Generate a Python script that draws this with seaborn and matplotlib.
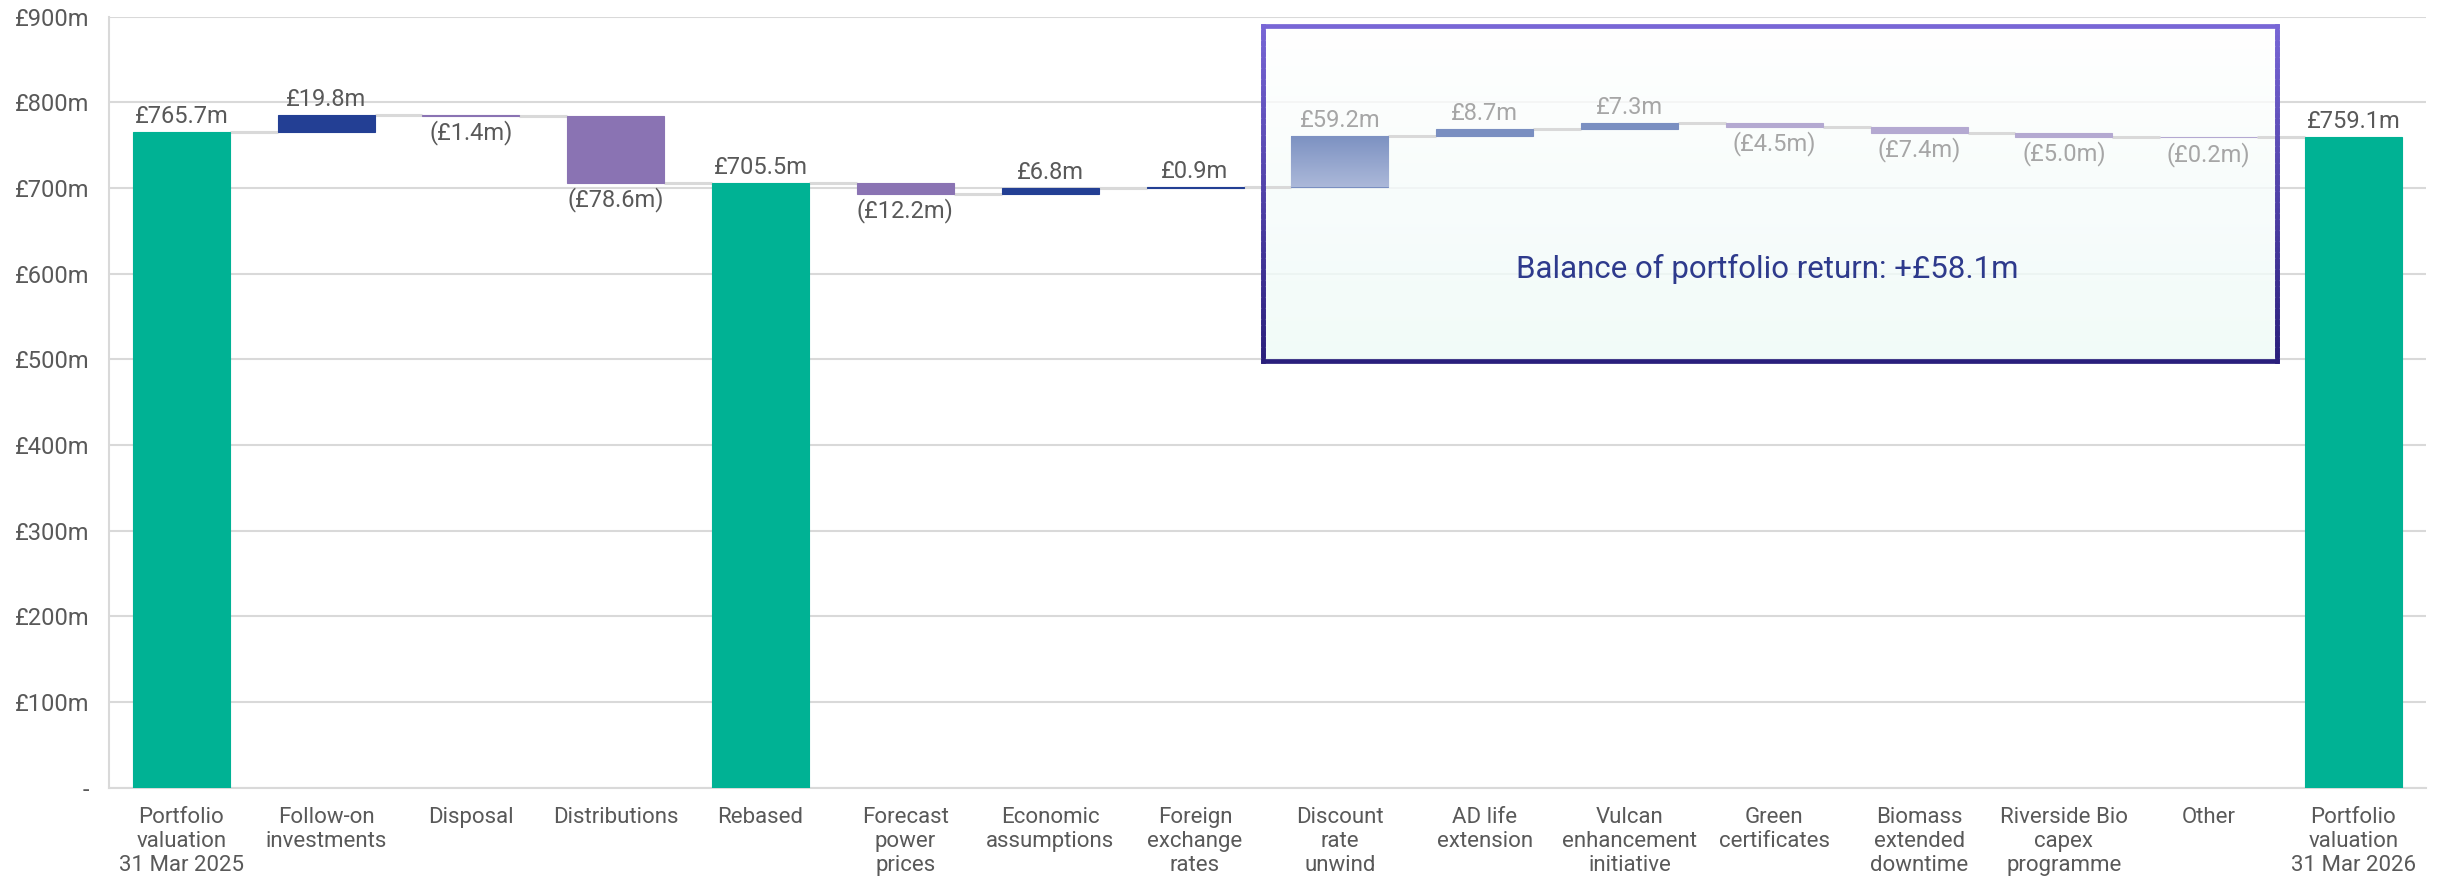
import numpy as np
import matplotlib
matplotlib.use('Agg')
import matplotlib.pyplot as plt
from matplotlib.colors import LinearSegmentedColormap, to_rgb
from matplotlib.collections import LineCollection
import pandas as pd
import seaborn as sns

# ---- data ----
categories = ["Portfolio\nvaluation\n31 Mar 2025", "Follow-on\ninvestments", "Disposal", "Distributions",
              "Rebased", "Forecast\npower\nprices", "Economic\nassumptions", "Foreign\nexchange\nrates",
              "Discount\nrate\nunwind", "AD life\nextension", "Vulcan\nenhancement\ninitiative",
              "Green\ncertificates", "Biomass\nextended\ndowntime", "Riverside Bio\ncapex\nprogramme",
              "Other", "Portfolio\nvaluation\n31 Mar 2026"]
values = [765.7, 19.8, -1.4, -78.6, 705.5, -12.2, 6.8, 0.9, 59.2, 8.7, 7.3, -4.5, -7.4, -5.0, -0.2, 759.1]
is_total = [True, False, False, False, True, False, False, False,
            False, False, False, False, False, False, False, True]
in_box = [False] * 8 + [True] * 7 + [False]
box_text = "Balance of portfolio return: +£58.1m"

# ---- style ----
teal = '#00B294'
navy = '#233F94'
purple = '#8A73B3'
light_blue = '#7A8FC1'
light_purple = '#B4A9D1'
grid_c = '#D9D9D9'
text_c = '#595959'
faint_c = '#A6A6A6'

sns.set_theme(style='white')
plt.rcParams['font.family'] = ['Roboto', 'DejaVu Sans']

# running totals
bottoms, heights, levels = [], [], []
running = 0.0
for v, tot in zip(values, is_total):
    if tot:
        bottoms.append(0.0)
        heights.append(v)
        running = v
    else:
        bottoms.append(min(running, running + v))
        heights.append(abs(v))
        running += v
    levels.append(running)

colors = []
for v, tot, box in zip(values, is_total, in_box):
    if tot:
        colors.append(teal)
    elif box:
        colors.append(light_blue if v > 0 else light_purple)
    else:
        colors.append(navy if v > 0 else purple)

df = pd.DataFrame({'cat': categories, 'h': heights})
fig, ax = plt.subplots(figsize=(24.43, 8.82), dpi=100)
plt.subplots_adjust(left=0.0446, right=0.993, top=0.981, bottom=0.107)

w = 0.67
sns.barplot(data=df, x='cat', y='h', hue='cat', palette=dict(zip(categories, colors)),
            width=w, saturation=1, legend=False, ax=ax, zorder=3)
patches = sorted(ax.patches, key=lambda p: p.get_x())
for p, b, c in zip(patches, bottoms, colors):
    p.set_y(b)
    p.set_edgecolor(c)
    p.set_linewidth(0.8)

# gradient on discount rate unwind bar
i_dr = 8
cm_bar = LinearSegmentedColormap.from_list('bar', ['#ABB8D9', '#7D92C2'])
ax.imshow(np.linspace(0, 1, 100).reshape(-1, 1), cmap=cm_bar, origin='lower', aspect='auto',
          extent=[i_dr - w / 2, i_dr + w / 2, bottoms[i_dr], bottoms[i_dr] + heights[i_dr]], zorder=3.5)

# connectors
for i in range(len(values) - 1):
    ax.hlines(levels[i], i + w / 2, i + 1 - w / 2, color=grid_c, lw=2.2, zorder=2)

# labels
for i, (v, tot, box) in enumerate(zip(values, is_total, in_box)):
    c = faint_c if box else text_c
    if tot or v > 0:
        ax.annotate(f'£{v:.1f}m', (i, bottoms[i] + heights[i]), xytext=(0, 3), textcoords='offset points',
                    ha='center', va='bottom', fontsize=17, color=c, zorder=5)
    else:
        ax.annotate(f'(£{abs(v):.1f}m)', (i, bottoms[i]), xytext=(0, -3), textcoords='offset points',
                    ha='center', va='top', fontsize=17, color=c, zorder=5)

# highlight box
bx0, bx1, by0, by1 = 7.47, 14.47, 498, 889
cm_box = LinearSegmentedColormap.from_list('box', ['#EEFAF7', '#FFFFFF'])
ax.imshow(np.linspace(0, 1, 100).reshape(-1, 1), cmap=cm_box, origin='lower', aspect='auto',
          extent=[bx0, bx1, by0, by1], alpha=0.8, zorder=1)
top_c, bot_c = np.array(to_rgb('#7866D6')), np.array(to_rgb('#2A1F7C'))
n = 60
ys = np.linspace(by1, by0, n + 1)
segs, cols = [], []
for x in (bx0, bx1):
    for k in range(n):
        segs.append([(x, ys[k]), (x, ys[k + 1])])
        cols.append(top_c + (bot_c - top_c) * (k + 0.5) / n)
segs.append([(bx0, by1), (bx1, by1)])
cols.append(top_c)
segs.append([(bx0, by0), (bx1, by0)])
cols.append(bot_c)
ax.add_collection(LineCollection(segs, colors=cols, linewidths=3.4, zorder=4, capstyle='projecting'))
ax.text(10.95, 605, box_text, ha='center', va='center', fontsize=22.5, color='#2E3A8C', zorder=5)

# axes
ax.set_xlim(-0.5, len(values) - 0.5)
ax.set_ylim(0, 900)
ax.set_yticks(np.arange(0, 901, 100))
ax.set_yticklabels(['-' if t == 0 else f'£{t}m' for t in range(0, 901, 100)])
ax.yaxis.grid(True, color=grid_c, lw=1.5)
ax.set_axisbelow(True)
ax.set_xlabel('')
ax.set_ylabel('')
ax.tick_params(axis='y', length=0, pad=14, labelsize=17, labelcolor=text_c)
ax.tick_params(axis='x', length=0, pad=14, labelsize=16, labelcolor=text_c)
for s in ['top', 'right']:
    ax.spines[s].set_visible(False)
for s in ['left', 'bottom']:
    ax.spines[s].set_color(grid_c)
    ax.spines[s].set_linewidth(1.5)

plt.savefig('out.png', dpi=100)
